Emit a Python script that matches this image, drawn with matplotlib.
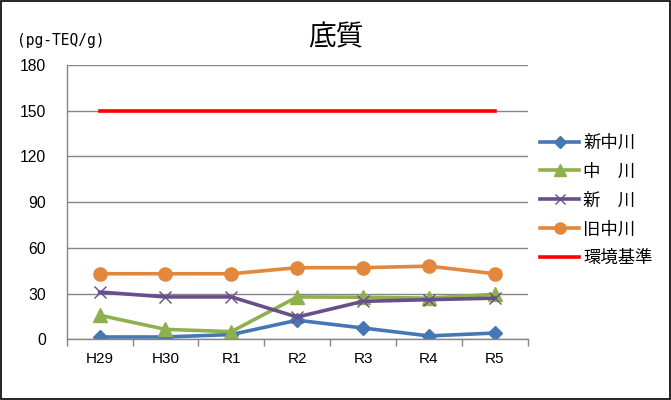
import matplotlib
matplotlib.use("Agg")
import matplotlib.pyplot as plt
from matplotlib.patches import Rectangle

plt.rcParams['font.family'] = ['Noto Sans CJK JP', 'DejaVu Sans']

categories = ["H29", "H30", "R1", "R2", "R3", "R4", "R5"]
shin_nakagawa = [1.5, 1.5, 3.1, 12.5, 7.4, 2.2, 4.1]
nakagawa = [15.8, 6.5, 5.0, 27.8, 27.6, 27.0, 29.5]
shinkawa = [31.0, 27.8, 27.8, 14.6, 24.9, 26.0, 27.0]
kyu_nakagawa = [43.0, 43.0, 43.0, 47.0, 47.0, 48.0, 43.0]
standard = [150] * 7
yticks = [0, 30, 60, 90, 120, 150, 180]

fig = plt.figure(figsize=(6.71, 4.0), dpi=100)
fig.patches.append(Rectangle((0.0015, 0.0025), 0.997, 0.995, transform=fig.transFigure,
                             fill=False, edgecolor='black', linewidth=1.2))
ax = fig.add_axes([0.0994, 0.1518, 0.687, 0.6857])
x = list(range(len(categories)))

ax.plot(x, shin_nakagawa, color='#4677B5', lw=2.6, marker='D', ms=7.5,
        mfc='#4677B5', mec='#4677B5', label='新中川')
ax.plot(x, nakagawa, color='#8EB04E', lw=2.6, marker='^', ms=9.5,
        mfc='#8EB04E', mec='#8EB04E', label='中\u3000川')
ax.plot(x, shinkawa, color='#684F8C', lw=2.6, marker='x', ms=9,
        mew=1.0, mfc='#684F8C', mec='#684F8C', label='新\u3000川')
ax.plot(x, kyu_nakagawa, color='#E3873C', lw=2.6, marker='o', ms=9.5,
        mfc='#E3873C', mec='#E3873C', label='旧中川')
ax.plot(x, standard, color='#FF0000', lw=2.6, label='環境基準')

ax.set_xlim(-0.5, len(categories) - 0.5)
ax.set_ylim(0, 180)
ax.set_yticks(yticks)
ax.set_yticklabels([str(v) for v in yticks], fontsize=11.3, family=['Liberation Sans'])
ax.set_xticks(x)
ax.set_xticklabels(categories, fontsize=11, family=['Liberation Sans'])
ax.set_xticks([i - 0.5 for i in range(len(categories) + 1)], minor=True)
ax.tick_params(axis='x', which='major', length=0, pad=9)
ax.tick_params(axis='x', which='minor', length=5, color='#868686', width=1)
ax.tick_params(axis='y', length=0, pad=15)
ax.grid(axis='y', color='#868686', lw=1)
ax.set_axisbelow(True)
for s in ['top', 'right']:
    ax.spines[s].set_visible(False)
for s in ['left', 'bottom']:
    ax.spines[s].set_color('#868686')
    ax.spines[s].set_linewidth(1)

fig.text(0.5, 0.907, '底質', ha='center', va='center', fontsize=20)
fig.text(0.026, 0.9, '(pg-TEQ/g)', ha='left', va='center', fontsize=10.5,
         family=['DejaVu Sans Mono'])

leg = fig.legend(loc='upper left', bbox_to_anchor=(0.7817, 0.705), frameon=False,
                 fontsize=12.5, handlelength=2.25, labelspacing=0.63, handletextpad=0.22)
for ln, ms in zip(leg.get_lines(), [6.5, 8, 7, 8, 0]):
    ln.set_markersize(ms)

fig.savefig('out.png', dpi=100)
